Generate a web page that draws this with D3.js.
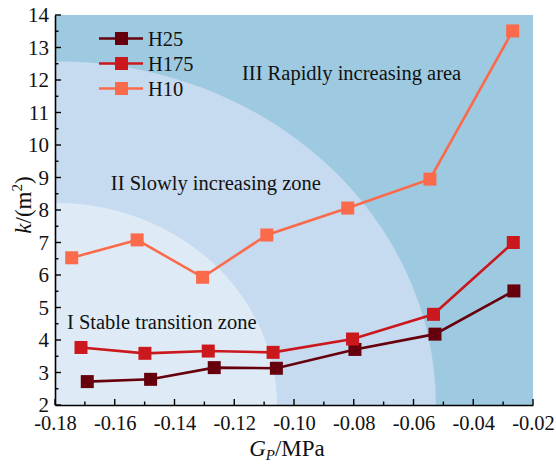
<!DOCTYPE html>
<html>
<head>
<meta charset="utf-8">
<script src="https://cdn.jsdelivr.net/npm/d3@7"></script>
<style>
  html, body { margin: 0; padding: 0; background: #fff; }
</style>
</head>
<body>
<svg id="chart" width="556" height="464"></svg>
<script>
// Permeability k (m^2) against pressure gradient Gp (MPa) for three samples
const seriesNames = ["H25", "H175", "H10"];
const seriesColors = ["#67000d", "#cb181d", "#fb6a4a"];

const gpH25  = [-0.1692, -0.1480, -0.1267, -0.1059, -0.0796, -0.0528, -0.0264];
const kH25   = [2.72, 2.79, 3.15, 3.13, 3.71, 4.18, 5.51];

const gpH175 = [-0.1713, -0.1499, -0.1287, -0.1070, -0.0804, -0.0533, -0.0266];
const kH175  = [3.77, 3.59, 3.66, 3.62, 4.03, 4.79, 7.00];

const gpH10  = [-0.1744, -0.1525, -0.1306, -0.1091, -0.0820, -0.0545, -0.0268];
const kH10   = [6.53, 7.08, 5.93, 7.23, 8.06, 8.95, 13.51];

const xTicks = [-0.18, -0.16, -0.14, -0.12, -0.10, -0.08, -0.06, -0.04, -0.02];
const yTicks = [2, 3, 4, 5, 6, 7, 8, 9, 10, 11, 12, 13, 14];

// Zone boundaries: quarter ellipses anchored at the lower-left corner (Gp, k extents)
const zoneNames  = ["III Rapidly increasing area", "II Slowly increasing zone", "I Stable transition zone"];
const zoneColors = ["#9ecae1", "#c6dbef", "#deebf7"];
const zoneReachGp = [null, -0.0525, -0.1057];
const zoneReachK  = [null, 12.58, 8.22];
const zoneLabelGp = [-0.1174, -0.1613, -0.1760];
const zoneLabelK  = [12.0, 8.62, 4.34];

const SERIF = '"Liberation Serif"';
const W = 556, H = 464;
const m = { left: 55, right: 23, top: 15, bottom: 59 };
const svg = d3.select("#chart");

function serifText(sel, size) {
  return sel.attr("font-family", "Liberation Serif")
    .style("font-family", SERIF)
    .attr("font-size", size)
    .attr("fill", "#111");
}

const x = d3.scaleLinear().domain([-0.18, -0.02]).range([m.left, W - m.right]);
const y = d3.scaleLinear().domain([2, 14]).range([H - m.bottom, m.top]);

// background zones
svg.append("rect")
  .attr("x", x(-0.18)).attr("y", y(14))
  .attr("width", x(-0.02) - x(-0.18)).attr("height", y(2) - y(14))
  .attr("fill", zoneColors[0]);

const clip = svg.append("defs").append("clipPath").attr("id", "plotclip");
clip.append("rect")
  .attr("x", x(-0.18)).attr("y", y(14))
  .attr("width", x(-0.02) - x(-0.18)).attr("height", y(2) - y(14));

[1, 2].forEach(i => {
  svg.append("ellipse")
    .attr("clip-path", "url(#plotclip)")
    .attr("cx", x(-0.18)).attr("cy", y(2))
    .attr("rx", x(zoneReachGp[i]) - x(-0.18))
    .attr("ry", y(2) - y(zoneReachK[i]))
    .attr("fill", zoneColors[i]);
});

zoneNames.forEach((name, i) => {
  serifText(svg.append("text"), 20.5)
    .attr("x", x(zoneLabelGp[i])).attr("y", y(zoneLabelK[i]))
    .text(name);
});

// axes
const xAxis = d3.axisBottom(x).tickValues(xTicks).tickSize(0).tickPadding(10)
  .tickFormat(d => d3.format(".2f")(d).replace("\u2212", "-"));
const gx = svg.append("g").attr("transform", `translate(0,${y(2)})`).call(xAxis);
gx.attr("font-family", null).attr("font-size", null);
gx.select(".domain").attr("stroke", "#000").attr("stroke-width", 1.6);
serifText(gx.selectAll("text"), 20.5);

const yAxis = d3.axisLeft(y).tickValues(yTicks).tickSize(0).tickPadding(6);
const gy = svg.append("g").attr("transform", `translate(${x(-0.18)},0)`).call(yAxis);
gy.attr("font-family", null).attr("font-size", null);
gy.select(".domain").attr("stroke", "#000").attr("stroke-width", 1.6);
serifText(gy.selectAll("text"), 21);

// inward ticks (major + minor)
const xMinor = d3.range(-0.18, -0.0199, 0.01);
xMinor.forEach((v, i) => {
  const len = (i % 2 === 0) ? 6 : 3.5;
  svg.append("line").attr("x1", x(v)).attr("x2", x(v))
    .attr("y1", y(2)).attr("y2", y(2) - len)
    .attr("stroke", "#000").attr("stroke-width", 1.4);
});
const yMinor = d3.range(2, 14.01, 0.5);
yMinor.forEach((v, i) => {
  const len = (i % 2 === 0) ? 6 : 3.5;
  svg.append("line").attr("x1", x(-0.18)).attr("x2", x(-0.18) + len)
    .attr("y1", y(v)).attr("y2", y(v))
    .attr("stroke", "#000").attr("stroke-width", 1.4);
});

// axis titles
const xt = serifText(svg.append("text"), 23).attr("x", 287).attr("y", 456)
  .attr("text-anchor", "middle");
xt.append("tspan").attr("font-style", "italic").text("G");
xt.append("tspan").attr("font-style", "italic").attr("font-size", 15).attr("dy", 4).text("P");
xt.append("tspan").attr("dy", -4).text("/MPa");

const yt = serifText(svg.append("text"), 23)
  .attr("transform", `translate(31,205) rotate(-90)`)
  .attr("text-anchor", "middle");
yt.append("tspan").attr("font-style", "italic").text("k");
yt.append("tspan").text("/(m");
yt.append("tspan").attr("font-size", 15).attr("dy", -9).text("2");
yt.append("tspan").attr("dy", 9).text(")");

// series
const series = [
  { name: seriesNames[0], color: seriesColors[0], gp: gpH25,  k: kH25 },
  { name: seriesNames[1], color: seriesColors[1], gp: gpH175, k: kH175 },
  { name: seriesNames[2], color: seriesColors[2], gp: gpH10,  k: kH10 }
];
const line = d3.line().x(d => x(d[0])).y(d => y(d[1]));
const S = 13;

series.forEach(s => {
  const pts = s.gp.map((g, i) => [g, s.k[i]]);
  svg.append("path").datum(pts).attr("d", line)
    .attr("fill", "none").attr("stroke", s.color).attr("stroke-width", 2.6);
  svg.selectAll(null).data(pts).enter().append("rect")
    .attr("x", d => x(d[0]) - S / 2).attr("y", d => y(d[1]) - S / 2)
    .attr("width", S).attr("height", S).attr("fill", s.color);
});

// legend
series.forEach((s, i) => {
  const ly = 38.5 + i * 25;
  svg.append("line").attr("x1", 99).attr("x2", 143).attr("y1", ly).attr("y2", ly)
    .attr("stroke", s.color).attr("stroke-width", 2.6);
  svg.append("rect").attr("x", 121.5 - S / 2).attr("y", ly - S / 2)
    .attr("width", S).attr("height", S).attr("fill", s.color);
  serifText(svg.append("text"), 20.5).attr("x", 148).attr("y", ly + 7).text(s.name);
});
</script>
</body>
</html>
